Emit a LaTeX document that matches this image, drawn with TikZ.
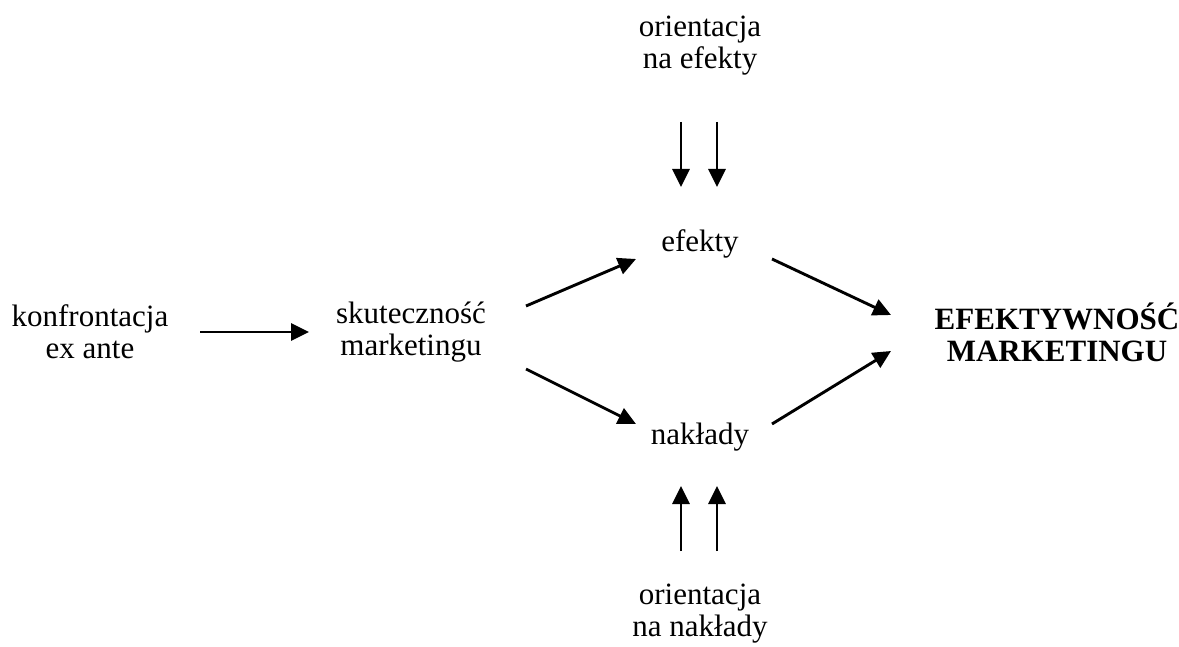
\documentclass[tikz,border=0pt]{standalone}
\usepackage{fontspec}
\setmainfont{Liberation Serif}
\usetikzlibrary{arrows.meta}
\begin{document}
\begin{tikzpicture}[x=0.5pt,y=-0.5pt,
  lbl/.style={align=center,inner sep=0pt,font=\fontsize{15.5}{16}\selectfont},
  arr/.style={line width=1.45pt,-{Triangle[length=9pt,width=8.5pt]}}]
\useasboundingbox (0,0) rectangle (1179,647);
% labels
\node[lbl] (oe) at (700,46) {orientacja\\na efekty};
\node[lbl] (ef) at (700,244) {efekty};
\node[lbl] (kon) at (90,332) {konfrontacja\\ex ante};
\node[lbl] (sk) at (411,332) {skuteczność\\marketingu};
\node[lbl] (na) at (700,437) {nakłady};
\node[lbl] (on) at (700,614) {orientacja\\na nakłady};
\node[lbl,font=\fontsize{15.5}{16}\selectfont\bfseries] (em) at (1057,332) {EFEKTYWNOŚĆ\\MARKETINGU};
% connector end points
\coordinate (d1s) at (681,122); \coordinate (d1e) at (681,187);
\coordinate (d2s) at (717,122); \coordinate (d2e) at (717,187);
\coordinate (u1s) at (681,551); \coordinate (u1e) at (681,486);
\coordinate (u2s) at (717,551); \coordinate (u2e) at (717,486);
\coordinate (ks) at (200,332); \coordinate (ke) at (309,332);
\coordinate (se1) at (526,306); \coordinate (ee1) at (636,259);
\coordinate (sn1) at (526,369); \coordinate (ne1) at (636,424);
\coordinate (es) at (772,259); \coordinate (ee) at (891,315);
\coordinate (ns) at (772,424); \coordinate (ne) at (891,351);
% arrows
\draw[arr] (d1s) -- (d1e);
\draw[arr] (d2s) -- (d2e);
\draw[arr] (u1s) -- (u1e);
\draw[arr] (u2s) -- (u2e);
\draw[arr] (ks) -- (ke);
\draw[arr] (se1) -- (ee1);
\draw[arr] (sn1) -- (ne1);
\draw[arr] (es) -- (ee);
\draw[arr] (ns) -- (ne);
\end{tikzpicture}
\end{document}
